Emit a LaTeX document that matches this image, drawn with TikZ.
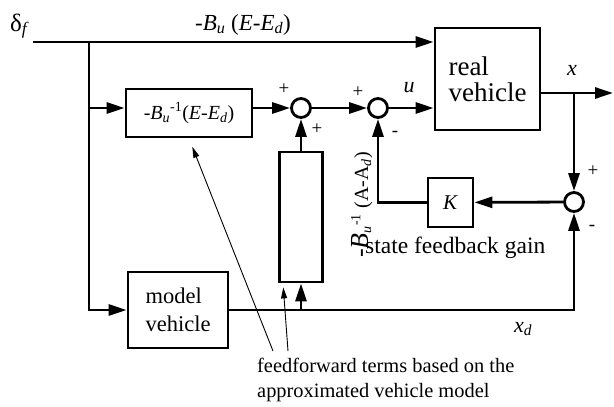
\documentclass[tikz,border=0pt]{standalone}
\usepackage{fontspec}
\setmainfont{Liberation Serif}
\usetikzlibrary{arrows.meta,positioning}
\newcommand{\fsz}[1]{\fontsize{#1}{#1}\selectfont}
\newcommand{\ssub}[1]{\textsubscript{\textit{#1}}}
\newcommand{\ssup}[1]{\textsuperscript{#1}}
\begin{document}
\begin{tikzpicture}[x=1pt, y=-1pt,
    wire/.style={line width=2.8pt},
    sig/.style={wire, -{Triangle[length=18pt, width=11pt]}},
    note/.style={line width=0.9pt, -{Triangle[length=11pt, width=6pt]}},
    blk/.style={draw, line width=2.8pt, inner sep=0pt},
    sumj/.style={draw, circle, line width=2.8pt, minimum size=19pt, inner sep=0pt},
    sgn/.style={font=\fsz{19}, inner sep=0pt}]
    \useasboundingbox (0,0) rectangle (614,407);

    \node[blk, minimum width=126pt, minimum height=48pt, font=\fsz{20}] (ff) at (189,113)
        {-\textit{B}\ssub{u}\ssup{-1}(\textit{E}-\textit{E}\ssub{d})};
    \node[blk, minimum width=105pt, minimum height=102pt, align=left, font=\fontsize{27}{26}\selectfont] (real) at (487.5,79)
        {real\\vehicle};
    \node[blk, minimum width=100pt, minimum height=76pt, align=left, font=\fontsize{22.5}{28}\selectfont] (model) at (178,310)
        {model\\vehicle};
    \node[blk, minimum width=43pt, minimum height=130pt] (tall) at (301,217) {};
    \node[blk, minimum width=45pt, minimum height=49pt, font=\fsz{21}] (K) at (450.5,202.5) {\textit{K}};
    \node[sumj] (s1) at (301,108) {};
    \node[sumj] (s2) at (378,108) {};
    \node[sumj] (s3) at (574,202) {};

    \coordinate (df) at (33,42);
    \coordinate (sp) at (89,42);
    \coordinate (xo) at (613,93);
    \coordinate (xbr) at (s3 |- xo);
    \coordinate (nA) at (273,351);
    \coordinate (nB) at (288,351);

    \draw[sig] (df) -- (real.west |- df);
    \draw[sig] (sp) |- (model.west);
    \draw[sig] (sp |- s1) -- (ff.west |- s1);
    \draw[sig] (ff.east |- s1) -- (s1.west);
    \draw[sig] (s1) -- (s2);
    \draw[sig] (s2) -- (real.west |- s2);
    \draw[sig] (real.east |- xo) -- (xo);
    \draw[sig] (xbr) -- (s3);
    \draw[sig] (s3) -- (K);
    \draw[sig] (K.west) -| (s2);
    \draw[sig] (model) -| (s3);
    \draw[sig] (tall) -- (s1);
    \draw[sig] (tall |- model) -- (tall);
    \draw[note, shorten >=9pt] (nA) -- (ff.south);
    \draw[note, shorten >=4pt] (nB) -- ([xshift=-18pt]tall.south);

    \node[font=\fsz{25}, anchor=base west, inner sep=0pt] (dlab) at (10,31) {δ\ssub{f}};
    \node[font=\fsz{23}, anchor=base west, inner sep=0pt] (eulab) at (195,30)
        {-\textit{B}\ssub{u} (\textit{E}-\textit{E}\ssub{d})};
    \node[font=\fsz{22}, anchor=base, inner sep=0pt] (ulab) at (409,92) {\textit{u}};
    \node[font=\fsz{22}, anchor=base, inner sep=0pt] (xlab) at (572,75) {\textit{x}};
    \node[font=\fsz{22}, anchor=base west, inner sep=0pt] (xdlab) at (514,332) {\textit{x}\ssub{d}};
    \node[sgn] (p1a) at (284,89) {+};
    \node[sgn] (p1b) at (317,129) {+};
    \node[sgn] (p2a) at (358,92) {+};
    \node[sgn] (m2) at (395,134) {-};
    \node[sgn] (p3) at (593,171) {+};
    \node[sgn] (m3) at (592,228) {-};
    \node[font=\fsz{20}, rotate=90, anchor=base east, inner sep=0pt] (fblab) at (368,152)
        {{\fsz{26}-\textit{B}}\ssub{u}\ssup{-1} (A-A\ssub{d})};
    \node[font=\fsz{23.5}, anchor=base west, inner sep=0pt] (fbnote) at (365,253) {state feedback gain};
    \node[font=\fontsize{20.4}{25}\selectfont, anchor=north west, align=left, inner sep=0pt] (ffnote) at (257,358)
        {feedforward terms based on the\\approximated vehicle model};
\end{tikzpicture}
\end{document}
